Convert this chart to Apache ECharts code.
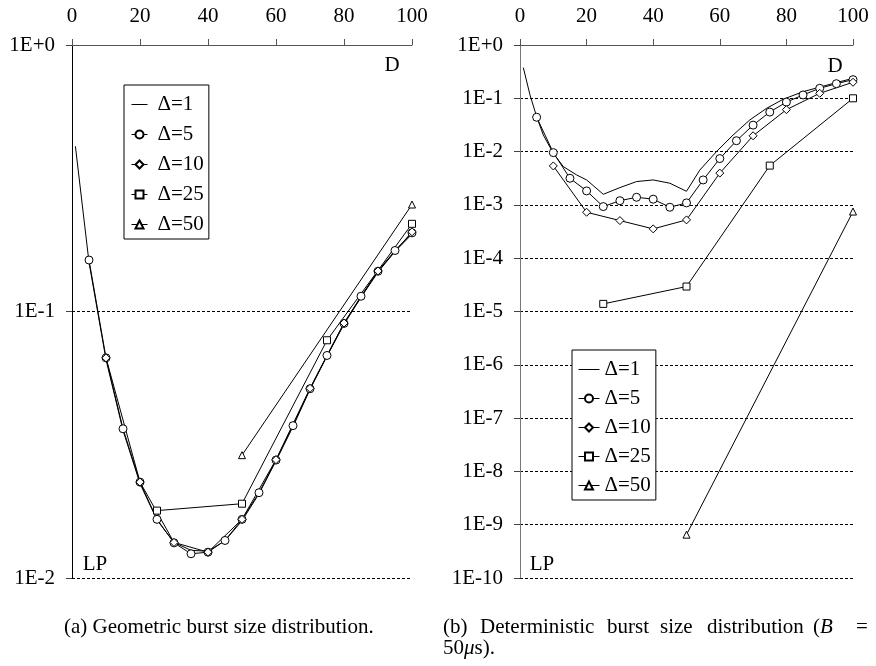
<!DOCTYPE html>
<html>
<head>
<meta charset="utf-8">
<script src="https://cdn.jsdelivr.net/npm/echarts@6/dist/echarts.min.js"></script>
<style>
  html, body { margin: 0; padding: 0; background: #fff; }
  #chart { width: 876px; height: 666px; }
</style>
</head>
<body>
<div id="chart"></div>
<script>
// Burst loss probability (LP) against load D, log scale, two burst size models.
const seriesNames = ['Δ=1', 'Δ=5', 'Δ=10', 'Δ=25', 'Δ=50'];
const xTickValues = [0, 20, 40, 60, 80, 100];

// (a) Geometric burst size distribution
const geoD1X  = [1, 5, 10, 15, 20, 25, 30, 35, 40, 45, 50, 55, 60, 65, 70, 75, 80, 85, 90, 95, 100];
const geoD1Y  = [0.417, 0.153, 0.066, 0.0358, 0.0226, 0.0165, 0.0136, 0.0127, 0.0126, 0.0138, 0.0164,
                 0.0207, 0.0275, 0.037, 0.051, 0.068, 0.0895, 0.113, 0.1405, 0.168, 0.195];
const geoD5X  = [5, 10, 15, 20, 25, 30, 35, 40, 45, 50, 55, 60, 65, 70, 75, 80, 85, 90, 95, 100];
const geoD5Y  = [0.156, 0.067, 0.0363, 0.0229, 0.0166, 0.01355, 0.01233, 0.0125, 0.01383, 0.0166,
                 0.0209, 0.0277, 0.0373, 0.0513, 0.0684, 0.0902, 0.1141, 0.1416, 0.1694, 0.1973];
const geoD10X = [10, 20, 30, 40, 50, 60, 70, 80, 90, 100];
const geoD10Y = [0.067, 0.0229, 0.0136, 0.0125, 0.0166, 0.0278, 0.0515, 0.0905, 0.142, 0.199];
const geoD25X = [25, 50, 75, 100];
const geoD25Y = [0.0179, 0.019, 0.078, 0.2133];
const geoD50X = [50, 100];
const geoD50Y = [0.0289, 0.252];

// (b) Deterministic burst size distribution
const detD1X  = [1, 3, 5, 7, 10, 13, 17, 20, 22, 25, 30, 35, 40, 45, 50, 54, 59, 64, 69, 74, 79, 85, 90, 95, 100];
const detD1Y  = [0.376, 0.1155, 0.0453, 0.0205, 0.0093, 0.00523, 0.00365, 0.00294, 0.0023, 0.00158,
                 0.00211, 0.00274, 0.00294, 0.00255, 0.0018, 0.0045, 0.010, 0.0205, 0.0392, 0.0646,
                 0.0958, 0.133, 0.162, 0.197, 0.237];
const detD5X  = [5, 10, 15, 20, 25, 30, 35, 40, 45, 50, 55, 60, 65, 70, 75, 80, 85, 90, 95, 100];
const detD5Y  = [0.0441, 0.00957, 0.00316, 0.00183, 0.00093, 0.0012, 0.00139, 0.00128, 0.000904, 0.00109,
                 0.00294, 0.0074, 0.016, 0.0314, 0.0552, 0.0848, 0.1155, 0.154, 0.188, 0.224];
const detD10X = [10, 20, 30, 40, 50, 60, 70, 80, 90, 100];
const detD10Y = [0.00538, 0.000728, 0.000508, 0.000355, 0.000523, 0.00395, 0.0198, 0.0612, 0.124, 0.2];
const detD25X = [25, 50, 75, 100];
const detD25Y = [1.39e-5, 2.94e-5, 0.00546, 0.1];
const detD50X = [50, 100];
const detD50Y = [6.5e-10, 0.00075];

const SERIF = '"Liberation Serif", "Times New Roman", serif';

function pairs(xs, ys) { return xs.map((x, i) => [x, ys[i]]); }

const markerOf = {
  'Δ=1':  { symbol: 'none', size: 0 },
  'Δ=5':  { symbol: 'circle', size: 8 },
  'Δ=10': { symbol: 'diamond', size: 8 },
  'Δ=25': { symbol: 'rect', size: 7 },
  'Δ=50': { symbol: 'triangle', size: 7 }
};

function lineSeries(name, idx, xs, ys) {
  const m = markerOf[name];
  return {
    type: 'line',
    name: name,
    xAxisIndex: idx,
    yAxisIndex: idx,
    data: pairs(xs, ys),
    symbol: m.symbol,
    symbolSize: m.size,
    showSymbol: m.symbol !== 'none',
    lineStyle: { color: '#000', width: 1 },
    itemStyle: { color: '#fff', borderColor: '#000', borderWidth: 1 },
    emphasis: { disabled: true },
    animation: false,
    z: 3
  };
}

function expLabel(v) {
  const e = Math.round(Math.log10(v));
  return '1E' + (e >= 0 ? '+' : '') + e;
}

function xAxisFor(idx) {
  return {
    gridIndex: idx, type: 'value', position: 'top',
    min: xTickValues[0], max: xTickValues[xTickValues.length - 1], interval: 20,
    axisLine: { show: true, onZero: false, lineStyle: { color: '#555', width: 1 } },
    axisTick: { show: true, inside: false, length: 6, lineStyle: { color: '#555' } },
    axisLabel: { margin: 18, fontSize: 21, fontFamily: SERIF, color: '#000' },
    splitLine: { show: false }
  };
}

function yAxisFor(idx, minV, axisColor) {
  return {
    gridIndex: idx, type: 'log', logBase: 10, min: minV, max: 1, interval: 1,
    axisLine: { show: true, lineStyle: { color: axisColor, width: 1 } },
    axisTick: { show: true, inside: false, length: 6, lineStyle: { color: '#444' } },
    axisLabel: { margin: 17, fontSize: 21, fontFamily: SERIF, color: '#000', formatter: expLabel },
    splitLine: { show: true, lineStyle: { color: '#000', width: 1, type: [3, 2] } },
    minorTick: { show: false }, minorSplitLine: { show: false }
  };
}

// The plain-line entry hides its placeholder marker in the legend.
const legendItems = seriesNames.map(n =>
  markerOf[n].symbol === 'none' ? { name: n, itemStyle: { opacity: 0 } } : { name: n });

function legendAt(left, top, iconW, gap, pad, textPad) {
  return {
    orient: 'vertical', left: left, top: top,
    data: legendItems,
    itemWidth: iconW, itemHeight: 10, itemGap: gap,
    padding: pad,
    borderColor: '#000', borderWidth: 1, backgroundColor: '#fff',
    selectedMode: false,
    lineStyle: { width: 1, color: '#000' },
    textStyle: { fontSize: 21, fontFamily: SERIF, color: '#000', padding: [0, 0, 0, textPad] }
  };
}

function label(text, x, y, size) {
  return {
    type: 'text', x: x, y: y, z: 10,
    style: {
      text: text, fill: '#000', fontSize: size || 21, fontFamily: SERIF,
      align: 'center', verticalAlign: 'middle',
      textAlign: 'center', textVerticalAlign: 'middle'
    }
  };
}

const CAP = 21;
function word(text, x, y, rich) {
  const st = {
    text: text, fill: '#000', fontSize: CAP, fontFamily: SERIF,
    align: 'left', verticalAlign: 'middle', textAlign: 'left', textVerticalAlign: 'middle'
  };
  if (rich) st.rich = rich;
  return { type: 'text', x: x, y: y, z: 10, style: st };
}

const italicRich = {
  n: { fontSize: CAP, fontFamily: SERIF, fill: '#000' },
  i: { fontSize: CAP, fontFamily: SERIF, fontStyle: 'italic', fill: '#000' }
};

const geoX = [geoD1X, geoD5X, geoD10X, geoD25X, geoD50X];
const geoY = [geoD1Y, geoD5Y, geoD10Y, geoD25Y, geoD50Y];
const detX = [detD1X, detD5X, detD10X, detD25X, detD50X];
const detY = [detD1Y, detD5Y, detD10Y, detD25Y, detD50Y];

const series = [];
seriesNames.forEach((n, k) => series.push(lineSeries(n, 0, geoX[k], geoY[k])));
seriesNames.forEach((n, k) => series.push(lineSeries(n, 1, detX[k], detY[k])));

const option = {
  backgroundColor: '#fff',
  animation: false,
  grid: [
    { left: 72, top: 45, width: 340, height: 533 },
    { left: 520, top: 45, width: 333, height: 533 }
  ],
  xAxis: [xAxisFor(0), xAxisFor(1)],
  yAxis: [yAxisFor(0, 0.01, '#000'), yAxisFor(1, 1e-10, '#777')],
  legend: [
    legendAt(124, 85, 16, 9, [9, 5, 4, 7], 5),
    legendAt(572, 350, 21, 8, [9, 5, 4, 6], 0)
  ],
  series: series,
  graphic: [
    label('D', 392, 65),
    label('D', 835, 66),
    label('LP', 95, 564),
    label('LP', 542, 564),
    word('(a) Geometric burst size distribution.', 64, 627),
    word('(b)', 443, 627),
    word('Deterministic', 480, 627),
    word('burst', 607, 627),
    word('size', 660, 627),
    word('distribution', 707, 627),
    word('{n|(}{i|B}', 813, 627, italicRich),
    word('=', 856, 627),
    word('{n|50}{i|μ}{n|s).}', 443, 648, italicRich)
  ]
};

const chart = echarts.init(document.getElementById('chart'), null, { renderer: 'canvas' });
chart.setOption(option);
</script>
</body>
</html>
